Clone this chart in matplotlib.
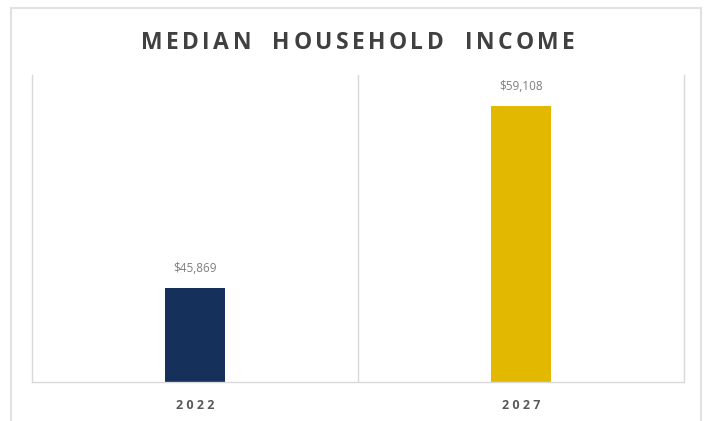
import matplotlib
matplotlib.use("Agg")
import matplotlib.pyplot as plt
from matplotlib.lines import Line2D
from matplotlib.font_manager import FontProperties
from matplotlib.textpath import TextToPath

categories = ["2022", "2027"]
values = [45869, 59108]
labels = ["$45,869", "$59,108"]
colors = ["#15305A", "#E3B800"]
title = "MEDIAN HOUSEHOLD INCOME"

W, H = 709, 421
fig = plt.figure(figsize=(W / 100, H / 100), dpi=100)
fig.patch.set_facecolor("white")

def fx(x): return x / W
def fy(y): return 1 - y / H

# outer frame (left, top, right)
for (x0, y0, x1, y1) in [(11, 8, 11, 421), (11, 8, 701, 8), (701, 8, 701, 421)]:
    fig.add_artist(Line2D([fx(x0), fx(x1)], [fy(y0), fy(y1)], color="#e2e2e2", lw=1.5))

L, R, T, B = 32, 684, 75, 382
ax = fig.add_axes([fx(L), fy(B), (R - L) / W, (B - T) / H])
x = list(range(len(categories)))
ax.bar(x, values, width=0.187, color=colors)
ax.set_xlim(-0.5, 1.5)
ax.set_ylim(39030, 61360)
ax.axvline(0.5, color="#d9d9d9", lw=1)
for s in ["left", "right", "bottom"]:
    ax.spines[s].set_color("#d9d9d9")
    ax.spines[s].set_linewidth(1)
ax.spines["top"].set_visible(False)
ax.set_yticks([])
ax.set_xticks(x)
ax.set_xticklabels([" ".join(c) for c in categories], fontsize=9, color="#595959",
                   fontweight="bold", family="Open Sans")
ax.tick_params(axis="x", length=0, pad=12)
for xi, v, lab in zip(x, values, labels):
    ax.annotate(lab, (xi, v), xytext=(0, 9), textcoords="offset points",
                ha="center", va="bottom", fontsize=8.5, color="#7f7f7f", family="Open Sans")

# letter-spaced title
fsize = 16.5
fp = FontProperties(family="Open Sans", weight="bold", size=fsize)
ttp = TextToPath()
def wpx(ch):
    w, h, d = ttp.get_text_width_height_descent(ch, fp, ismath=False)
    return w * 100 / 72.0
space_extra = 3.4
widths = [wpx(c) if c != " " else wpx("n") * 0.95 for c in title]
total = sum(widths) + space_extra * (len(title) - 1)
start = 358 - total / 2
cx = start
for c, w in zip(title, widths):
    if c != " ":
        fig.text(fx(cx), fy(43), c, ha="left", va="center", fontproperties=fp, color="#404040")
    cx += w + space_extra

fig.savefig("out.png", dpi=100, facecolor="white")
